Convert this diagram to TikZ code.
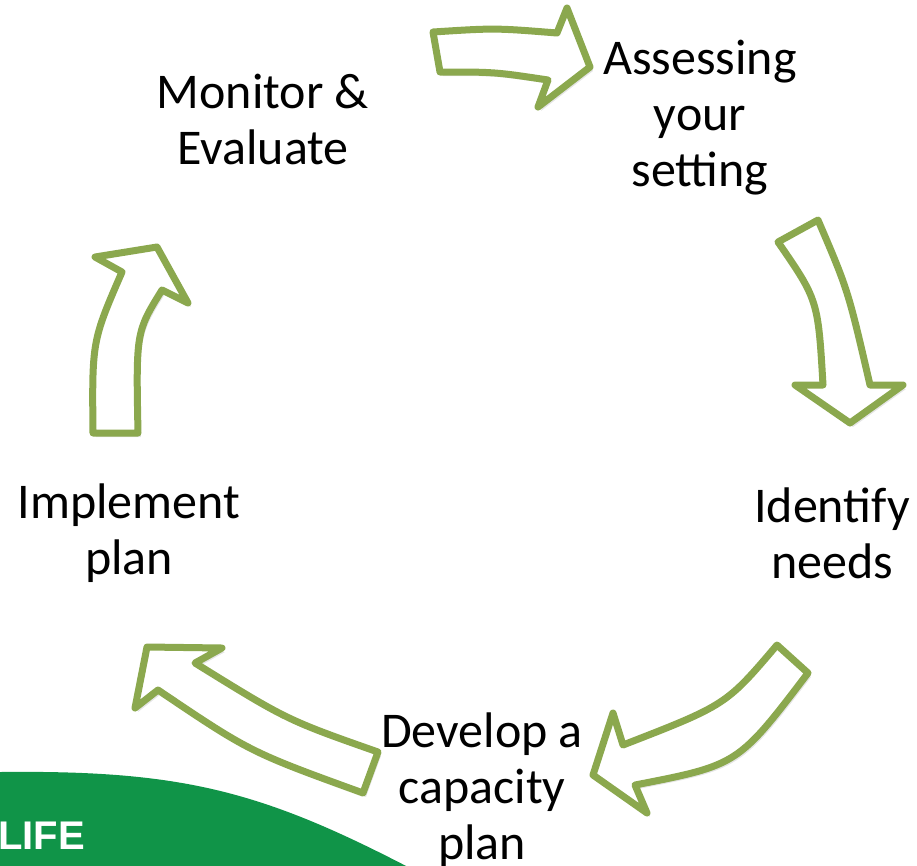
\documentclass[tikz,border=0pt]{standalone}
\usepackage{fontspec}
\setmainfont{Carlito}
\newfontfamily\logofont{Liberation Sans}
\definecolor{arrowgreen}{RGB}{139,168,78}
\definecolor{wavegreen}{RGB}{16,148,72}
\begin{document}
\begin{tikzpicture}[x=1pt,y=-1pt,
  blockarrow/.style={draw=arrowgreen, fill=white, line width=7pt, line join=round},
  arrowshadow/.style={fill=black, opacity=0.10},
  steplabel/.style={align=center, font=\fontsize{50}{56}\selectfont, inner sep=0pt}]
\useasboundingbox (0,0) rectangle (917,865);
\clip (0,0) rectangle (917,865);
% green wave
\fill[wavegreen] (0,772) .. controls (180,770) and (260,790) .. (410,868) -- (0,868) -- cycle;
\node[anchor=west, text=white, font=\logofont\bfseries\fontsize{40}{42}\selectfont, inner sep=0pt] (logo) at (-2,836) {LIFE};
% labels
\node[steplabel] (monitor) at (263,119) {Monitor \&\\Evaluate};
\node[steplabel] (assess) at (700,118) {Assessing\\your\\setting};
\node[steplabel] (identify) at (832,533) {Identify\\needs};
\node[steplabel] (develop) at (482,790) {Develop a\\capacity\\plan};
\node[steplabel] (implement) at (129,533) {Implement\\plan};
% arrows: Monitor -> Assessing
\path[arrowshadow] (436,36) .. controls (498,32) .. (560,37) -- (570,12) -- (593,71) -- (541,111) -- (551,84) .. controls (498,76) .. (443,76) -- cycle;
\path[blockarrow] (433,32) .. controls (495,28) .. (557,33) -- (567,8) -- (590,67) -- (538,107) -- (548,80) .. controls (495,72) .. (440,72) -- cycle;
% Assessing -> Identify
\path[arrowshadow] (781,246) -- (821,224) .. controls (851,294) .. (873,389) -- (906,389) -- (853,427) -- (798,389) -- (826,389) .. controls (821,304) .. (781,246) -- cycle;
\path[blockarrow] (778,242) -- (818,220) .. controls (848,290) .. (870,385) -- (903,385) -- (850,423) -- (795,385) -- (823,385) .. controls (818,300) .. (778,242) -- cycle;
% Identify -> Develop
\path[arrowshadow] (780,649) -- (811,677) .. controls (741,769) .. (638,789) -- (650,817) -- (596,779) -- (616,717) -- (626,749) .. controls (729,709) .. (780,649) -- cycle;
\path[blockarrow] (777,645) -- (808,673) .. controls (738,765) .. (635,785) -- (647,813) -- (593,775) -- (613,713) -- (623,745) .. controls (726,705) .. (777,645) -- cycle;
% Develop -> Implement
\path[arrowshadow] (150,651) -- (225,652) -- (198,667) .. controls (290,724) .. (381,756) -- (366,797) .. controls (253,756) .. (161,694) -- (138,712) -- cycle;
\path[blockarrow] (147,647) -- (222,648) -- (195,663) .. controls (287,720) .. (378,752) -- (363,793) .. controls (250,752) .. (158,690) -- (135,708) -- cycle;
% Implement -> Monitor
\path[arrowshadow] (96,437) -- (141,437) .. controls (139,336) .. (165,294) -- (191,307) -- (160,251) -- (98,261) -- (125,276) .. controls (95,345) .. (96,437) -- cycle;
\path[blockarrow] (93,433) -- (138,433) .. controls (136,332) .. (162,290) -- (188,303) -- (157,247) -- (95,257) -- (122,272) .. controls (92,341) .. (93,433) -- cycle;
\end{tikzpicture}
\end{document}
